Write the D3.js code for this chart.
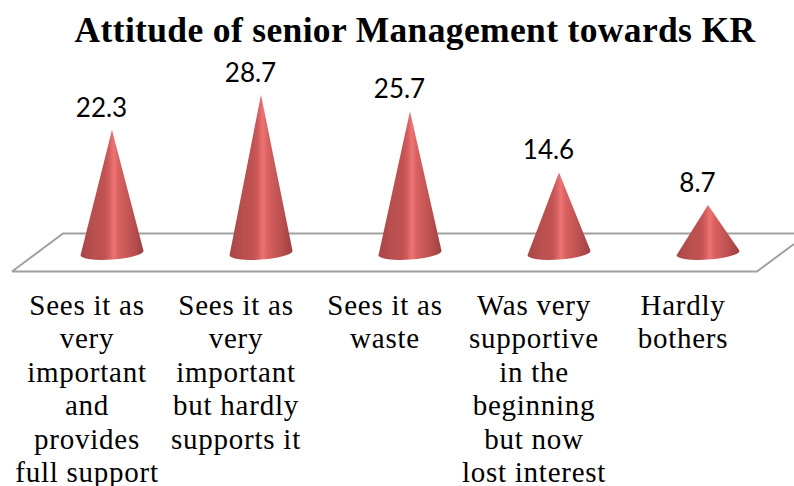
<!DOCTYPE html>
<html><head><meta charset="utf-8">
<script src="https://cdnjs.cloudflare.com/ajax/libs/d3/7.8.5/d3.min.js"></script>
<style>html,body{margin:0;background:#fff}svg{display:block}</style></head>
<body><svg id="c" width="794" height="486"></svg>
<script>
const titleText = "Attitude of senior Management towards KR";
const categories = ["Sees it as very important and provides full support","Sees it as very important but hardly supports it","Sees it as waste","Was very supportive in the beginning but now lost interest","Hardly bothers"];
const categoryLines = [["Sees it as","very","important","and","provides","full support"],["Sees it as","very","important","but hardly","supports it"],["Sees it as","waste"],["Was very","supportive","in the","beginning","but now","lost interest"],["Hardly","bothers"]];
const values = [22.3,28.7,25.7,14.6,8.7];
const valueLabels = ["22.3","28.7","25.7","14.6","8.7"];

const svg = d3.select("#c");
const x = d3.scaleBand().domain(categories).range([37.5,782.5]).padding(0);
const y = d3.scaleLinear().domain([0,30]).range([253,87.5]);
const rx = 31.5, tiltDy = 2.2, ry = 6.6;

const defs = svg.append("defs");
const g = defs.append("linearGradient").attr("id","cone").attr("x1","0").attr("x2","1").attr("y1","0").attr("y2","0");
[[0,"#a84646"],[0.2,"#b94f4f"],[0.38,"#c05252"],[0.45,"#d05c5c"],[0.53,"#ee7474"],[0.61,"#d86060"],[0.85,"#b84e4e"],[1,"#9c3f3f"]]
  .forEach(([o,c])=>g.append("stop").attr("offset",o).attr("stop-color",c));

svg.append("path").attr("d","M12,271.5L63,233.5L794,233.5M12,271.5L757,271.5L794,244")
  .attr("fill","none").attr("stroke","#a0a0a0").attr("stroke-width",2);

svg.selectAll("path.cone").data(values).join("path").attr("class","cone")
  .attr("fill","url(#cone)")
  .attr("d",(d,i)=>{
    const cx = x(categories[i])+x.bandwidth()/2, b = y(0);
    return `M${cx-rx},${b+tiltDy}L${cx},${y(d)}L${cx+rx},${b-tiltDy}A${rx},${ry} -4 0 1 ${cx-rx},${b+tiltDy}Z`;
  });

svg.selectAll("text.val").data(values).join("text").attr("class","val")
  .attr("x",(d,i)=>x(categories[i])+x.bandwidth()/2-10.5)
  .attr("y",d=>y(d)-13)
  .attr("text-anchor","middle")
  .attr("font-family","Lato, sans-serif").attr("font-size",26).attr("fill","#000")
  .text((d,i)=>valueLabels[i]);

const axis = svg.append("g").attr("transform","translate(-25,0)").call(d3.axisBottom(x).tickSize(0).tickFormat(""));
axis.select(".domain").remove();
axis.selectAll(".tick text").remove();
axis.selectAll(".tick").each(function(c,i){
  const t = d3.select(this).append("text").attr("text-anchor","middle")
    .attr("font-family","'Liberation Serif', serif").attr("font-size",29).attr("letter-spacing",0.75).attr("fill","#000");
  categoryLines[i].forEach((l,j)=>t.append("tspan").attr("x",0).attr("y",315+j*33.4).text(l));
});

svg.append("text").attr("x",415).attr("y",42).attr("text-anchor","middle")
  .attr("font-family","'Liberation Serif', serif").attr("font-weight","bold").attr("font-size",35.5).attr("letter-spacing",0.35).attr("fill","#000").text(titleText);
</script></body></html>
